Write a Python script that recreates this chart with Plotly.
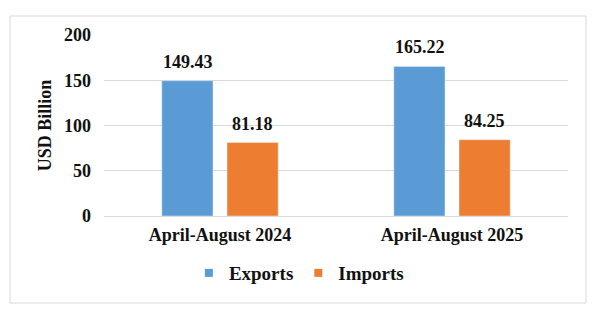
import plotly.graph_objects as go

categories = ["April-August 2024", "April-August 2025"]
exports = [149.43, 165.22]
imports = [81.18, 84.25]
y_ticks = [0, 50, 100, 150, 200]

FONT = "Liberation Serif"
TXT = "#111111"
BLUE = "#5b9bd5"
ORANGE = "#ed7d31"
bold = lambda s: dict(family=FONT, size=s, color=TXT, weight="bold")

fig = go.Figure()
fig.add_trace(go.Bar(name="Exports", x=categories, y=exports, marker_color=BLUE, showlegend=False))
fig.add_trace(go.Bar(name="Imports", x=categories, y=imports, marker_color=ORANGE, showlegend=False))
# legend entries with small square swatches
for name, col in (("Exports", BLUE), ("Imports", ORANGE)):
    fig.add_trace(go.Scatter(name=name, x=[None], y=[None], mode="markers",
                             marker=dict(symbol="square", size=8, color=col), showlegend=True))

for vals, shift in ((exports, -32.5), (imports, 32.5)):
    for c, v in zip(categories, vals):
        fig.add_annotation(x=c, y=v, text=f"{v:.2f}", showarrow=False,
                           xshift=shift, yshift=7, yanchor="bottom", font=bold(18))

fig.add_shape(type="rect", xref="paper", yref="paper",
              x0=-0.2026, x1=1.0388, y0=-0.4807, y1=1.105,
              line=dict(color="#d9d9d9", width=1), fillcolor="rgba(0,0,0,0)", layer="below")

fig.update_layout(
    width=604, height=316,
    margin=dict(l=104, r=36, t=35, b=100),
    paper_bgcolor="white", plot_bgcolor="white",
    barmode="group", bargap=0.438, bargroupgap=0.215,
    font=bold(18),
    showlegend=True,
    legend=dict(orientation="h", xanchor="center", x=0.42, yanchor="middle", y=-0.315,
                font=bold(19), itemwidth=30, tracegroupgap=0, bgcolor="rgba(0,0,0,0)"),
    xaxis=dict(showgrid=False, showline=False, ticks="", tickfont=bold(18), ticklabelstandoff=6),
    yaxis=dict(range=[0, 200], tickvals=y_ticks, showgrid=True, gridcolor="#d9d9d9", gridwidth=1,
               zeroline=True, zerolinecolor="#d9d9d9", zerolinewidth=1, showline=False, ticks="",
               ticklabelstandoff=12, tickfont=bold(18),
               title=dict(text="USD Billion", standoff=7, font=bold(18))),
)

fig.write_html("out.html")
